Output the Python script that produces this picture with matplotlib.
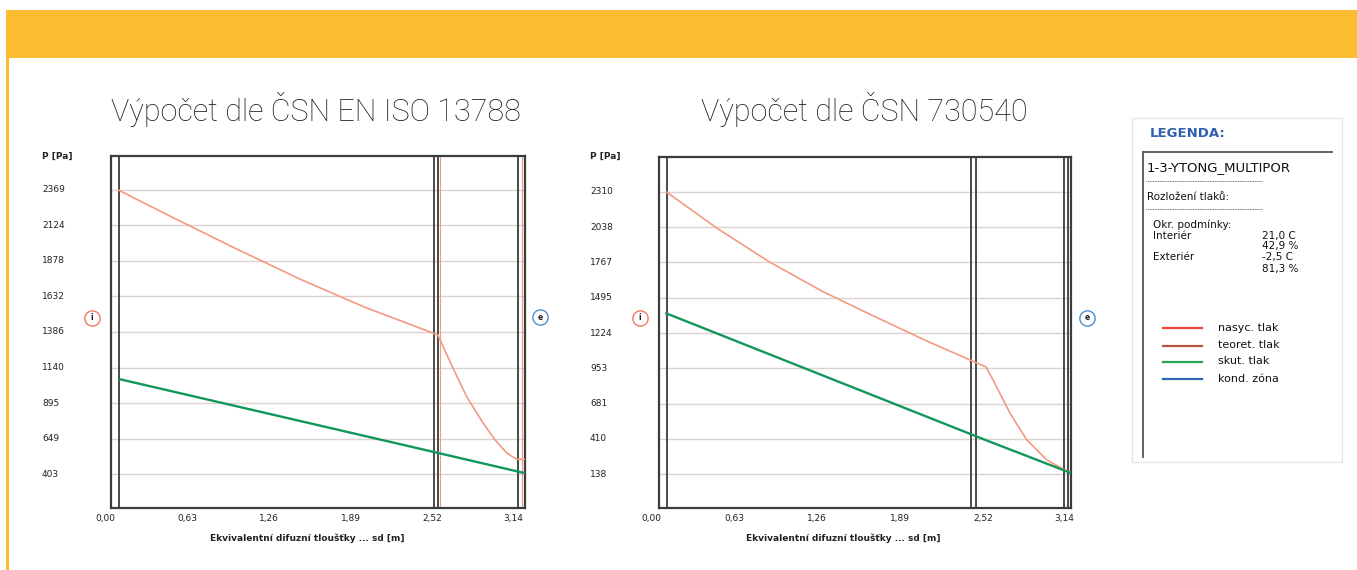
import numpy as np
import matplotlib
matplotlib.use('Agg')
import matplotlib.pyplot as plt
from matplotlib.patches import Rectangle
from matplotlib.lines import Line2D

W, H = 1357, 570

# --- data (x in sd [m] label scale, y in Pa) ---
titles = ['Výpočet dle ČSN EN ISO 13788', 'Výpočet dle ČSN 730540']
x_ticks = [0.0, 0.63, 1.26, 1.89, 2.52, 3.14]
x_tick_labels = ['0,00', '0,63', '1,26', '1,89', '2,52', '3,14']

y_ticks_1 = [2369, 2123.25, 1877.5, 1631.75, 1386, 1140.25, 894.5, 648.75, 403]
y_labels_1 = ['2369', '2124', '1878', '1632', '1386', '1140', '895', '649', '403']
sat_x_1 = [0.102, 0.5, 1.0, 1.5, 2.0, 2.56, 2.67, 2.782, 2.908, 3.0, 3.09, 3.167, 3.231]
sat_y_1 = [2369, 2188, 1966, 1752, 1557, 1366, 1150, 939, 757, 640, 549, 505, 505]
act_x_1 = [0.115, 2.552, 3.231]
act_y_1 = [1059, 551, 409]
layers_1 = [0.108, 2.533, 2.564, 3.177]
xlim_1 = (0.046, 3.231)
ylim_1 = (168, 2604)

y_ticks_2 = [2310, 2038.5, 1767, 1495.5, 1224, 952.5, 681, 409.5, 138]
y_labels_2 = ['2310', '2038', '1767', '1495', '1224', '953', '681', '410', '138']
sat_x_2 = [0.114, 0.5, 0.9, 1.3, 1.7, 2.1, 2.544, 2.60, 2.65, 2.727, 2.854, 3.006, 3.132, 3.191]
sat_y_2 = [2310, 2030, 1770, 1545, 1350, 1160, 963, 860, 760, 607, 402, 248, 175, 150]
act_x_2 = [0.114, 2.537, 3.191]
act_y_2 = [1375, 402, 146]
layers_2 = [0.116, 2.430, 2.466, 3.140, 3.166]
xlim_2 = (0.058, 3.191)
ylim_2 = (-123, 2579)

legend_names = ['nasyc. tlak', 'teoret. tlak', 'skut. tlak', 'kond. zóna']
legend_colors = ['#e8473c', '#b5533f', '#2aa450', '#2b67b3']

C_SAT = '#f39a82'
C_ACT = '#12975a'
C_FRAME = '#3c3c3c'
C_GRID = '#dcd2cf'


def fx(px):
    return px / W


def fy(py):
    return 1 - py / H


def make_panel(fig, box, label_px, title, title_x, xlim, ylim, yticks, ylabels,
               sat_x, sat_y, act_x, act_y, layers, xl_center, orange_marks=()):
    l, t, r, b = box
    ax = fig.add_axes([fx(l), fy(b), (r - l) / W, (b - t) / H])
    ax.set_xlim(*xlim)
    ax.set_ylim(*ylim)
    ax.set_xticks([])
    ax.set_yticks([])
    for s in ax.spines.values():
        s.set_color(C_FRAME)
        s.set_linewidth(1.6)
    for y in yticks:
        ax.axhline(y, color=C_GRID, lw=1.0, zorder=1)
    for xv in layers:
        ax.axvline(xv, color=C_FRAME, lw=1.3, zorder=3)
    for xv in orange_marks:
        ax.axvline(xv, color=C_SAT, lw=0.8, zorder=2)
    ax.plot(sat_x, sat_y, color=C_SAT, lw=1.2, zorder=4)
    ax.plot(act_x, act_y, color=C_ACT, lw=1.7, zorder=5)

    ytr = ax.get_yaxis_transform()
    xoff = (label_px - l) / (r - l)
    for y, lab in zip(yticks, ylabels):
        ax.text(xoff, y, lab, transform=ytr, ha='left', va='center',
                fontsize=6.5, color='#222', clip_on=False)
    ax.text(xoff, (b - 156.5) / (b - t), 'P [Pa]', transform=ax.transAxes,
            ha='left', va='center', fontsize=6.5, fontweight='bold',
            color='#222', clip_on=False)

    xtr = ax.get_xaxis_transform()
    for xv, lab in zip(x_ticks, x_tick_labels):
        ax.text(xv, (b - 519) / (b - t), lab, transform=xtr, ha='center',
                va='center', fontsize=6.5, color='#222', clip_on=False)
    ax.text((xl_center - l) / (r - l), (b - 538) / (b - t),
            'Ekvivalentní difuzní tloušťky ... sd [m]', transform=ax.transAxes,
            ha='center', va='center', fontsize=6.5, fontweight='bold',
            color='#222', clip_on=False)

    fig.text(fx(title_x), fy(110), title, ha='center', va='center',
             fontsize=22, color='#1e1e1e', fontweight='light',
             family=['Roboto', 'DejaVu Sans'])
    return ax


def side_marker(fig, px, py, color, letter):
    fig.add_artist(Line2D([fx(px)], [fy(py)], marker='o', ms=11, mfc='white',
                          mec=color, mew=1.0, transform=fig.transFigure))
    fig.text(fx(px), fy(py), letter, ha='center', va='center', fontsize=5.5,
             fontweight='bold', color='#222')


fig = plt.figure(figsize=(W / 100, H / 100), dpi=100)
fig.patch.set_facecolor('white')

# orange header band and left strip
fig.add_artist(Rectangle((fx(6), fy(58)), 1 - fx(6), 48 / H,
                         transform=fig.transFigure, color='#fbbc30', lw=0))
fig.add_artist(Rectangle((fx(6), 0), 2.5 / W, fy(58),
                         transform=fig.transFigure, color='#fbbc30', lw=0))

make_panel(fig, (111, 156, 525, 508), 42, titles[0], 316, xlim_1, ylim_1,
           y_ticks_1, y_labels_1, sat_x_1, sat_y_1, act_x_1, act_y_1,
           layers_1, 307, orange_marks=(2.577, 3.205))
make_panel(fig, (659, 157, 1071, 508), 590, titles[1], 864, xlim_2, ylim_2,
           y_ticks_2, y_labels_2, sat_x_2, sat_y_2, act_x_2, act_y_2,
           layers_2, 843)

side_marker(fig, 92, 318, '#f0785e', 'i')
side_marker(fig, 540, 317, '#4d8fcf', 'e')
side_marker(fig, 640, 318, '#f0785e', 'i')
side_marker(fig, 1087, 318, '#4d8fcf', 'e')

# legend panel
fig.add_artist(Rectangle((fx(1132), fy(462)), 210 / W, 344 / H,
                         transform=fig.transFigure, fill=False,
                         ec='#e6e6e6', lw=1.0))
fig.text(fx(1150), fy(133), 'LEGENDA:', ha='left', va='center', fontsize=9.5,
         fontweight='bold', color='#2f5fae')
fig.add_artist(Line2D([fx(1143), fx(1332)], [fy(152), fy(152)],
                      color='#555', lw=1.3, transform=fig.transFigure))
fig.add_artist(Line2D([fx(1143), fx(1143)], [fy(152), fy(457)],
                      color='#555', lw=1.3, transform=fig.transFigure))
for yy in (181, 209):
    fig.add_artist(Line2D([fx(1146), fx(1262)], [fy(yy), fy(yy)],
                          color='#444', lw=0.6, ls=(0, (1, 1)),
                          transform=fig.transFigure))
fig.text(fx(1147), fy(168), '1-3-YTONG_MULTIPOR', ha='left', va='center',
         fontsize=9.5, color='#111')
fig.text(fx(1147), fy(197), 'Rozložení tlaků:', ha='left', va='center',
         fontsize=7.5, color='#111')
rows = [('Okr. podmínky:', '', 225), ('Interiér', '21,0 C', 236),
        ('', '42,9 %', 246), ('Exteriér', '-2,5 C', 257), ('', '81,3 %', 269)]
for left_txt, right_txt, yy in rows:
    fig.text(fx(1153), fy(yy), left_txt, ha='left', va='center',
             fontsize=7.5, color='#111')
    fig.text(fx(1262), fy(yy), right_txt, ha='left', va='center',
             fontsize=7.5, color='#111')
for name, col, yy in zip(legend_names, legend_colors, [328, 345.5, 361.5, 379]):
    fig.add_artist(Line2D([fx(1163), fx(1202)], [fy(yy), fy(yy)], color=col,
                          lw=1.6, transform=fig.transFigure))
    fig.text(fx(1218), fy(yy), name, ha='left', va='center', fontsize=8,
             color='#111')

fig.savefig('out.png', dpi=100)
